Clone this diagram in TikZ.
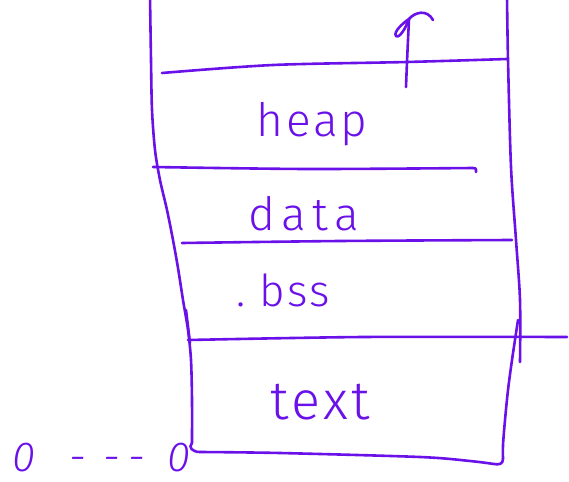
\documentclass[tikz,border=0pt]{standalone}
\usepackage{fontspec}
\setmainfont{Fira Sans Light}
\definecolor{ink}{RGB}{106,16,232}
\tikzset{
  hand/.style={draw=ink, line width=2.6pt, line cap=round, line join=round},
  lbl/.style={text=ink, inner sep=0pt, anchor=base}
}
\begin{document}
\begin{tikzpicture}[x=1pt,y=-1pt]
\useasboundingbox (0,0) rectangle (569,481);
% left wall
\draw[hand] plot[smooth] coordinates {(150,-3) (151,60) (152,110) (155,150) (160,180) (167,210) (173,240) (178,268) (183,300) (188,330) (191,360) (192,400) (192,443)};
\draw[hand] (192,443) .. controls (188,447) and (192,452) .. (200,452);
\draw[hand] (186,310) -- (190,343);
% right walls
\draw[hand] plot[smooth] coordinates {(507,-3) (508,60) (511,167) (516,240) (520,300) (520,362)};
\draw[hand] plot[smooth] coordinates {(518,320) (512,360) (508,390) (505,420) (503,445) (503,459)};
\draw[hand] (503,459) .. controls (503,464) and (499,465) .. (494,464);
% bottom
\draw[hand] plot[smooth] coordinates {(200,452) (280,453) (420,457) (470,461) (494,464)};
% horizontal dividers
\draw[hand] plot[smooth] coordinates {(162,73) (273,65) (407,62) (507,59)};
\draw[hand] plot[smooth] coordinates {(153,167) (307,169) (473,168)};
\draw[hand] (473,168) .. controls (476,168) .. (476,172);
\draw[hand] plot[smooth] coordinates {(182,243) (340,241) (512,240)};
\draw[hand] plot[smooth] coordinates {(188,340) (363,337) (567,337)};
% upward arrow
\draw[hand] (406,87) .. controls (407,60) and (408,40) .. (409,19);
\draw[hand] (409,19) .. controls (403,23) and (393,32) .. (396,36) .. controls (399,39) and (406,28) .. (409,19);
\draw[hand] (409,19) .. controls (415,12) and (427,9) .. (433,20);
% labels
\node[lbl, font=\fontsize{46}{46}\selectfont\addfontfeatures{LetterSpace=6}] (heap) at (312,137) {heap};
\node[lbl, font=\fontsize{46}{46}\selectfont\addfontfeatures{LetterSpace=14}] (data) at (304,230) {data};
\node[lbl, anchor=base west, font=\fontsize{44}{44}\selectfont\addfontfeatures{LetterSpace=6}] (bss) at (236,306) {.\hspace{14pt}bss};
\node[lbl, font=\fontsize{54}{54}\selectfont\addfontfeatures{LetterSpace=6}] (text) at (320,419) {text};
\node[lbl, anchor=base west, font=\fontsize{42}{42}\selectfont\itshape] (zero) at (12,471) {0\hspace{34pt}-\hspace{18pt}-\hspace{8pt}-\hspace{22pt}0};
\end{tikzpicture}
\end{document}
